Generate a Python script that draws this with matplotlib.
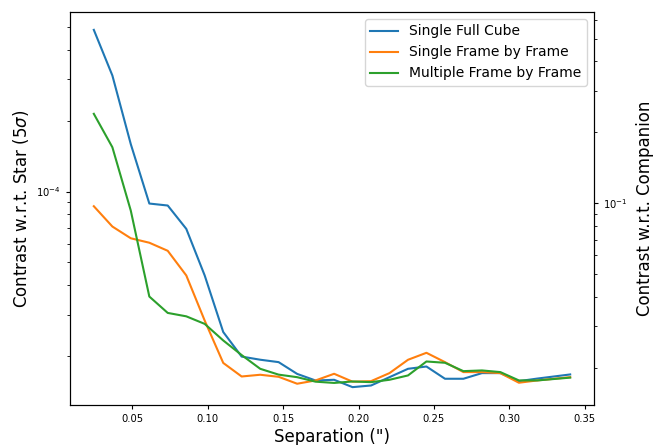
import matplotlib
matplotlib.use("Agg")
import matplotlib.pyplot as plt

# Angular separation of each annulus (arcsec)
separation = [0.0245, 0.0368, 0.0490, 0.0613, 0.0735, 0.0858, 0.0980, 0.1103,
              0.1225, 0.1348, 0.1470, 0.1593, 0.1715, 0.1838, 0.1960, 0.2083,
              0.2205, 0.2328, 0.2450, 0.2573, 0.2695, 0.2818, 0.2940, 0.3063,
              0.3185, 0.3403]

# 5-sigma contrast curves relative to the star
single_full_cube = [4.86e-4, 3.11e-4, 1.59e-4, 8.89e-5, 8.72e-5, 6.94e-5, 4.40e-5,
                    2.53e-5, 1.99e-5, 1.93e-5, 1.885e-5, 1.68e-5, 1.575e-5,
                    1.586e-5, 1.476e-5, 1.50e-5, 1.627e-5, 1.766e-5, 1.806e-5,
                    1.602e-5, 1.602e-5, 1.693e-5, 1.693e-5, 1.565e-5, 1.605e-5,
                    1.671e-5]
single_frame_by_frame = [8.66e-5, 7.10e-5, 6.33e-5, 6.06e-5, 5.60e-5, 4.40e-5,
                         2.83e-5, 1.87e-5, 1.638e-5, 1.666e-5, 1.633e-5, 1.526e-5,
                         1.576e-5, 1.682e-5, 1.557e-5, 1.565e-5, 1.693e-5,
                         1.929e-5, 2.065e-5, 1.885e-5, 1.71e-5, 1.71e-5, 1.693e-5,
                         1.541e-5, 1.576e-5, 1.627e-5]
multiple_frame_by_frame = [2.138e-4, 1.542e-4, 8.30e-5, 3.58e-5, 3.05e-5, 2.95e-5,
                           2.74e-5, 2.33e-5, 2.02e-5, 1.766e-5, 1.668e-5, 1.627e-5,
                           1.557e-5, 1.538e-5, 1.56e-5, 1.55e-5, 1.586e-5,
                           1.655e-5, 1.897e-5, 1.873e-5, 1.726e-5, 1.738e-5,
                           1.71e-5, 1.576e-5, 1.576e-5, 1.62e-5]

series_labels = ["Single Full Cube", "Single Frame by Frame", "Multiple Frame by Frame"]

# Companion/star flux ratio used for the secondary axis
companion_contrast = 8.93e-4

fig = plt.figure(figsize=(6.62, 4.45), dpi=100)
ax = fig.add_axes([70 / 662, 1 - 405 / 445, 524 / 662, 393 / 445])

for values, label in zip([single_full_cube, single_frame_by_frame, multiple_frame_by_frame],
                         series_labels):
    ax.plot(separation, values, label=label)

ax.set_yscale("log")
ax.set_xlabel('Separation (")', fontsize=12, labelpad=3)
ax.set_ylabel(r"Contrast w.r.t. Star (5$\sigma$)", fontsize=12)
ax.tick_params(axis="both", which="major", labelsize=7.2, length=3)
ax.tick_params(axis="both", which="minor", length=2)
ax.legend(loc="upper right", fontsize=10)

lo, hi = ax.get_ylim()
ax2 = ax.twinx()
ax2.set_yscale("log")
ax2.set_ylim(lo / companion_contrast, hi / companion_contrast)
ax2.set_ylabel("Contrast w.r.t. Companion", fontsize=12, labelpad=6)
ax2.tick_params(axis="y", which="major", labelsize=7.2, length=3)
ax2.tick_params(axis="y", which="minor", length=2)

fig.savefig("out.png", dpi=100)
